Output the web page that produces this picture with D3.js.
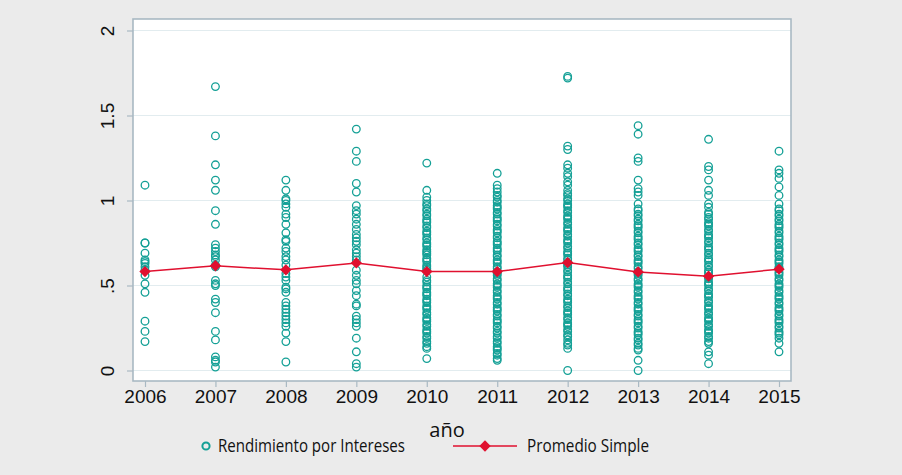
<!DOCTYPE html>
<html>
<head>
<meta charset="utf-8">
<script src="https://cdn.jsdelivr.net/npm/d3@7"></script>
<style>
  body { margin: 0; background: #ebebeb; }
  .tick text { fill: #111; }
</style>
</head>
<body>
<svg id="chart"></svg>
<script>
// Rendimiento por intereses por año, y su promedio simple
const years = [2006, 2007, 2008, 2009, 2010, 2011, 2012, 2013, 2014, 2015];
const yTickValues = [0, 0.5, 1, 1.5, 2];
const yTickLabels = ["0", ".5", "1", "1.5", "2"];

const r2006 = [1.09, 0.75, 0.75, 0.69, 0.65, 0.64, 0.63, 0.61, 0.59, 0.56, 0.51, 0.46, 0.29, 0.23, 0.17];
const r2007 = [1.67, 1.38, 1.21, 1.12, 1.06, 0.94, 0.86, 0.74, 0.72, 0.70, 0.68, 0.67, 0.65, 0.62, 0.61,
  0.53, 0.51, 0.50, 0.42, 0.40, 0.34, 0.23, 0.18, 0.08, 0.06, 0.05, 0.02];
const r2008 = [1.12, 1.06, 1.01, 1.00, 0.98, 0.96, 0.92, 0.90, 0.86, 0.81, 0.77, 0.76, 0.72, 0.70, 0.67,
  0.65, 0.62, 0.57, 0.55, 0.53, 0.49, 0.48, 0.46, 0.40, 0.38, 0.36, 0.34, 0.32, 0.30, 0.28, 0.26, 0.22,
  0.17, 0.05];
const r2009 = [1.42, 1.29, 1.23, 1.10, 1.05, 0.97, 0.94, 0.92, 0.89, 0.86, 0.83, 0.80, 0.78, 0.76, 0.74,
  0.71, 0.69, 0.67, 0.65, 0.59, 0.56, 0.53, 0.51, 0.47, 0.44, 0.39, 0.38, 0.32, 0.30, 0.28, 0.26, 0.19,
  0.11, 0.04, 0.02];
const r2010 = [1.22, 1.06, 1.02, 1.00, 0.98, 0.97, 0.95, 0.94, 0.92, 0.91, 0.89, 0.88, 0.87, 0.85, 0.84,
  0.82, 0.81, 0.80, 0.78, 0.77, 0.75, 0.74, 0.73, 0.71, 0.70, 0.69, 0.68, 0.66, 0.65, 0.64, 0.62, 0.61,
  0.60, 0.59, 0.55, 0.53, 0.52, 0.50, 0.49, 0.48, 0.46, 0.45, 0.44, 0.42, 0.41, 0.40, 0.38, 0.37, 0.36,
  0.34, 0.33, 0.31, 0.30, 0.29, 0.27, 0.26, 0.24, 0.23, 0.22, 0.20, 0.19, 0.17, 0.16, 0.14, 0.13, 0.07];
const r2011 = [1.16, 1.09, 1.07, 1.05, 1.03, 1.02, 1.00, 0.99, 0.97, 0.96, 0.95, 0.93, 0.92, 0.90, 0.89,
  0.88, 0.86, 0.85, 0.83, 0.82, 0.81, 0.79, 0.78, 0.76, 0.75, 0.74, 0.72, 0.71, 0.70, 0.68, 0.67, 0.65,
  0.64, 0.63, 0.61, 0.60, 0.58, 0.57, 0.56, 0.54, 0.53, 0.51, 0.50, 0.49, 0.47, 0.46, 0.44, 0.43, 0.42,
  0.40, 0.39, 0.37, 0.36, 0.35, 0.33, 0.32, 0.30, 0.29, 0.28, 0.26, 0.25, 0.23, 0.22, 0.20, 0.19, 0.17,
  0.16, 0.14, 0.13, 0.12, 0.10, 0.09, 0.07, 0.06];
const r2012 = [1.73, 1.72, 1.32, 1.30, 1.21, 1.19, 1.16, 1.14, 1.11, 1.09, 1.06, 1.04, 1.03, 1.01, 1.00,
  0.98, 0.97, 0.96, 0.94, 0.93, 0.91, 0.90, 0.89, 0.87, 0.86, 0.84, 0.83, 0.82, 0.80, 0.79, 0.77, 0.76,
  0.75, 0.73, 0.72, 0.70, 0.69, 0.68, 0.66, 0.65, 0.63, 0.62, 0.61, 0.59, 0.58, 0.56, 0.55, 0.54, 0.52,
  0.51, 0.49, 0.48, 0.47, 0.45, 0.44, 0.42, 0.41, 0.40, 0.38, 0.37, 0.35, 0.34, 0.33, 0.31, 0.30, 0.28,
  0.27, 0.26, 0.24, 0.23, 0.21, 0.20, 0.18, 0.16, 0.15, 0.13, 0.00];
const r2013 = [1.44, 1.39, 1.25, 1.23, 1.12, 1.07, 1.05, 1.03, 0.98, 0.95, 0.94, 0.92, 0.91, 0.89, 0.88,
  0.86, 0.85, 0.84, 0.82, 0.81, 0.79, 0.78, 0.77, 0.75, 0.74, 0.72, 0.71, 0.70, 0.68, 0.67, 0.65, 0.64,
  0.63, 0.61, 0.60, 0.58, 0.57, 0.56, 0.54, 0.53, 0.51, 0.50, 0.49, 0.47, 0.46, 0.44, 0.43, 0.42, 0.40,
  0.39, 0.37, 0.36, 0.35, 0.33, 0.32, 0.30, 0.29, 0.28, 0.26, 0.25, 0.23, 0.22, 0.21, 0.19, 0.18, 0.16,
  0.15, 0.13, 0.12, 0.06, 0.00];
const r2014 = [1.36, 1.20, 1.18, 1.12, 1.06, 1.03, 0.98, 0.96, 0.93, 0.92, 0.90, 0.89, 0.87, 0.86, 0.85,
  0.83, 0.82, 0.80, 0.79, 0.78, 0.76, 0.75, 0.73, 0.72, 0.71, 0.69, 0.68, 0.66, 0.65, 0.64, 0.62, 0.61,
  0.59, 0.58, 0.57, 0.55, 0.54, 0.52, 0.51, 0.50, 0.48, 0.47, 0.45, 0.44, 0.43, 0.41, 0.40, 0.38, 0.37,
  0.36, 0.34, 0.33, 0.31, 0.30, 0.29, 0.27, 0.26, 0.24, 0.23, 0.22, 0.20, 0.19, 0.17, 0.16, 0.11, 0.09,
  0.04];
const r2015 = [1.29, 1.18, 1.16, 1.13, 1.08, 1.03, 0.98, 0.95, 0.94, 0.92, 0.91, 0.89, 0.88, 0.86, 0.85,
  0.84, 0.82, 0.81, 0.79, 0.78, 0.77, 0.75, 0.74, 0.72, 0.71, 0.70, 0.68, 0.67, 0.65, 0.64, 0.63, 0.61,
  0.60, 0.58, 0.57, 0.56, 0.54, 0.53, 0.51, 0.50, 0.49, 0.47, 0.46, 0.44, 0.43, 0.42, 0.40, 0.39, 0.37,
  0.36, 0.35, 0.33, 0.32, 0.30, 0.29, 0.28, 0.26, 0.25, 0.23, 0.22, 0.21, 0.19, 0.16, 0.11];
const promedio = [0.582, 0.616, 0.592, 0.633, 0.582, 0.582, 0.635, 0.580, 0.555, 0.596];

const rendimiento = [r2006, r2007, r2008, r2009, r2010, r2011, r2012, r2013, r2014, r2015];

const WIDTH = 902, HEIGHT = 475;
const PLOT = {left: 133, right: 791, top: 19, bottom: 381};
const TEAL = "#14a096", RED = "#e0102f", FRAME = "#a9b9c3";

const svg = d3.select("#chart").attr("width", WIDTH).attr("height", HEIGHT);

svg.append("rect").attr("width", WIDTH).attr("height", HEIGHT).attr("fill", "#ebebeb");

const xScale = d3.scaleLinear().domain([2006, 2015]).range([145, 779]);
const yScale = d3.scaleLinear().domain([0, 2]).range([370.5, 30.5]);

// plot area
svg.append("rect")
	.attr("x", PLOT.left).attr("y", PLOT.top)
	.attr("width", PLOT.right - PLOT.left).attr("height", PLOT.bottom - PLOT.top)
	.attr("fill", "#fff");

// grid
svg.append("g")
	.selectAll("line")
	.data(yTickValues)
	.join("line")
	.attr("x1", PLOT.left).attr("x2", PLOT.right)
	.attr("y1", d => yScale(d)).attr("y2", d => yScale(d))
	.attr("stroke", "#e2ecef").attr("stroke-width", 1.2);

// Y-axis
const yAxis = svg.append("g")
	.attr("transform", `translate(${PLOT.left}, 0)`)
	.call(d3.axisLeft(yScale).tickValues(yTickValues)
		.tickFormat((d, i) => yTickLabels[i]).tickSize(6).tickPadding(4));
yAxis.select(".domain").remove();
yAxis.selectAll(".tick line").attr("stroke", FRAME).attr("stroke-width", 1.2);
yAxis.selectAll(".tick text")
	.attr("font-family", "Liberation Sans, Arial, sans-serif")
	.attr("font-size", 19)
	.attr("text-anchor", "middle")
	.attr("x", 0).attr("dy", 0)
	.attr("transform", "translate(-19, 0) rotate(-90)");

// X-axis
const xAxis = svg.append("g")
	.attr("transform", `translate(0, ${PLOT.bottom})`)
	.call(d3.axisBottom(xScale).tickValues(years).tickFormat(d3.format("d")).tickSize(6).tickPadding(3));
xAxis.select(".domain").remove();
xAxis.selectAll(".tick line").attr("stroke", FRAME).attr("stroke-width", 1.2);
xAxis.selectAll(".tick text")
	.attr("font-family", "Liberation Sans, Arial, sans-serif")
	.attr("font-size", 19);

// frame
svg.append("rect")
	.attr("x", PLOT.left).attr("y", PLOT.top)
	.attr("width", PLOT.right - PLOT.left).attr("height", PLOT.bottom - PLOT.top)
	.attr("fill", "none").attr("stroke", FRAME).attr("stroke-width", 1.6);

svg.append("text")
	.attr("x", 447).attr("y", 437)
	.attr("text-anchor", "middle")
	.attr("font-family", "Open Sans, sans-serif")
	.attr("font-size", 20)
	.attr("fill", "#111")
	.text("año");

// Scatter points
const points = [];
rendimiento.forEach((vals, i) => vals.forEach(v => points.push({year: years[i], value: v})));

svg.append("g")
	.selectAll("circle")
	.data(points)
	.join("circle")
	.attr("cx", d => xScale(d.year))
	.attr("cy", d => yScale(d.value))
	.attr("r", 3.8)
	.attr("fill", "none")
	.attr("stroke", TEAL)
	.attr("stroke-width", 1.3);

// Promedio simple
const meanData = years.map((y, i) => ({year: y, value: promedio[i]}));
svg.append("path")
	.datum(meanData)
	.attr("fill", "none")
	.attr("stroke", RED)
	.attr("stroke-width", 1.5)
	.attr("d", d3.line().x(d => xScale(d.year)).y(d => yScale(d.value)));

// square turned 45 deg, like stata's diamond
const diamond = d3.symbol().type(d3.symbolSquare).size(64);
svg.append("g")
	.selectAll("path")
	.data(meanData)
	.join("path")
	.attr("transform", d => `translate(${xScale(d.year)}, ${yScale(d.value)}) rotate(45)`)
	.attr("d", diamond)
	.attr("fill", RED);

// Legend
const legend = svg.append("g")
	.attr("font-family", "Open Sans, sans-serif")
	.attr("font-size", 17.5)
	.attr("fill", "#111");

legend.append("circle")
	.attr("cx", 206).attr("cy", 446).attr("r", 3.6)
	.attr("fill", "none").attr("stroke", TEAL).attr("stroke-width", 2);
legend.append("text").attr("x", 218).attr("y", 452)
	.attr("textLength", 187).attr("lengthAdjust", "spacingAndGlyphs")
	.text("Rendimiento por Intereses");

legend.append("line")
	.attr("x1", 453).attr("x2", 517).attr("y1", 446).attr("y2", 446)
	.attr("stroke", RED).attr("stroke-width", 1.5);
legend.append("path")
	.attr("transform", "translate(485, 446) rotate(45)")
	.attr("d", diamond)
	.attr("fill", RED);
legend.append("text").attr("x", 527).attr("y", 452)
	.attr("textLength", 122).attr("lengthAdjust", "spacingAndGlyphs")
	.text("Promedio Simple");
</script>
</body>
</html>
